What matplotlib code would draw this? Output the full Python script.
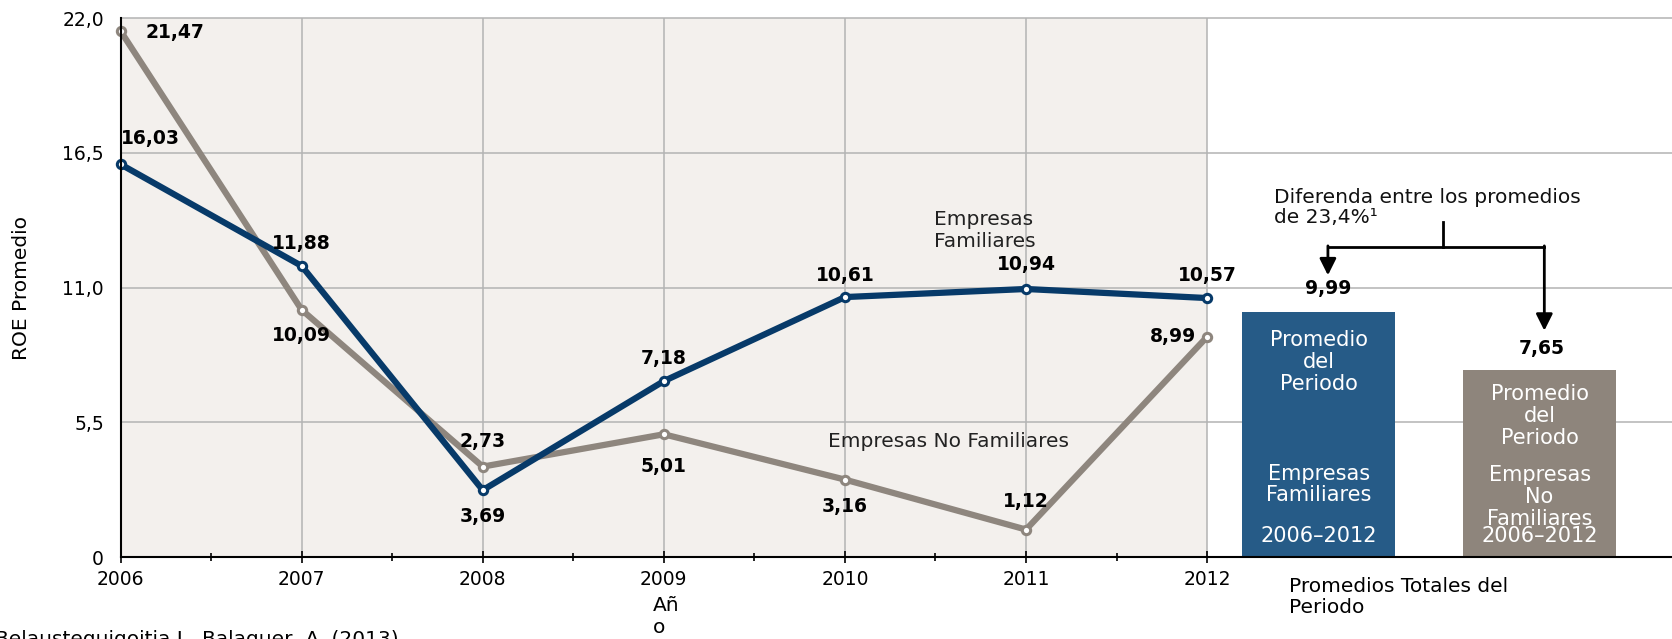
import matplotlib
matplotlib.use("Agg")
import matplotlib.pyplot as plt
from matplotlib.ticker import FixedLocator

plt.rcParams['font.family'] = ['DejaVu Sans']

# ROE promedio por año
years = [2006, 2007, 2008, 2009, 2010, 2011, 2012]
familiares = [16.03, 11.88, 2.73, 7.18, 10.61, 10.94, 10.57]
no_familiares = [21.47, 10.09, 3.69, 5.01, 3.16, 1.12, 8.99]

# Promedios del periodo 2006-2012
avg_labels = ["Familiares", "No Familiares"]
avg_values = [9.99, 7.65]

yticks = [0, 5.5, 11.0, 16.5, 22.0]
ytick_labels = ["0", "5,5", "11,0", "16,5", "22,0"]

BLUE_LINE = "#073a69"
GRAY_LINE = "#8e867e"
BLUE_BAR = "#265b87"
GRAY_BAR = "#8e857c"
BEIGE = "#f3f0ed"
GRID = "#b3b3b3"
TXT = 14.5
BOLD = 13.5


def fmt(v):
    return f"{v:.2f}".replace(".", ",")


fig = plt.figure(figsize=(16.72, 6.39), dpi=100)
ax = fig.add_axes([0.0721, 0.1283, 1 - 0.0721, 0.9718 - 0.1283])
ax.set_xlim(2006, 2014.567)
ax.set_ylim(0, 22)

# shaded period area
ax.axvspan(2006, 2012, color=BEIGE, zorder=0, lw=0)

# grid
for y in yticks[1:]:
    ax.axhline(y, color=GRID, lw=1.1, zorder=1, clip_on=False)
for x in years[1:]:
    ax.plot([x, x], [0, 22], color=GRID, lw=1.1, zorder=1)

# lines
ax.plot(years, no_familiares, color=GRAY_LINE, lw=4.5, zorder=3,
        marker="o", ms=6, mfc="white", mec=GRAY_LINE, mew=2.2,
        solid_capstyle="round", clip_on=False)
ax.plot(years, familiares, color=BLUE_LINE, lw=4.5, zorder=4,
        marker="o", ms=6, mfc="white", mec=BLUE_LINE, mew=2.2,
        solid_capstyle="round", clip_on=False)

# value labels: (dx, dy) in data units relative to the value
fam_off = [(0.0, 1.05), (0.0, 0.93), (0.0, 1.98), (0.0, 0.92),
           (0.0, 0.89), (0.0, 1.0), (0.0, 0.93)]
nofam_off = [(0.14, -0.07), (0.0, -1.03), (0.0, -2.03), (0.0, -1.33),
             (0.0, -1.1), (0.0, 1.15), (-0.19, 0.03)]
fam_ha = ["left", "center", "center", "center", "center", "center", "center"]
nofam_ha = ["left", "center", "center", "center", "center", "center", "center"]

for x, v, (dx, dy), ha in zip(years, familiares, fam_off, fam_ha):
    ax.text(x + dx, v + dy, fmt(v), ha=ha, va="center", fontsize=BOLD,
            fontweight="bold", color="black", zorder=6)
for x, v, (dx, dy), ha in zip(years, no_familiares, nofam_off, nofam_ha):
    ax.text(x + dx, v + dy, fmt(v), ha=ha, va="center", fontsize=BOLD,
            fontweight="bold", color="black", zorder=6)

# series names
ax.text(2010.49, 13.33, "Empresas\nFamiliares", ha="left", va="center",
        fontsize=TXT, color="#222222", linespacing=1.15, zorder=5)
ax.text(2009.905, 4.71, "Empresas No Familiares", ha="left", va="center",
        fontsize=TXT, color="#222222", zorder=5)

# period averages
bar_x = [2012.617, 2013.836]
bars = ax.bar(bar_x, avg_values, width=0.845, color=[BLUE_BAR, GRAY_BAR],
              zorder=2)
ax.text(bar_x[0] + 0.05, avg_values[0] + 0.99, fmt(avg_values[0]), ha="center",
        va="center", fontsize=BOLD, fontweight="bold", zorder=6)
ax.text(bar_x[1] + 0.01, avg_values[1] + 0.85, fmt(avg_values[1]), ha="center",
        va="center", fontsize=BOLD, fontweight="bold", zorder=6)

inner = dict(ha="center", va="center", fontsize=15, color="white", zorder=5)
ax.text(bar_x[0], 7.95, "Promedio\ndel\nPeriodo", linespacing=1.12, **inner)
ax.text(bar_x[0], 2.96, "Empresas\nFamiliares", linespacing=1.12, **inner)
ax.text(bar_x[0], 0.87, "2006\u20132012", **inner)
ax.text(bar_x[1], 5.75, "Promedio\ndel\nPeriodo", linespacing=1.12, **inner)
ax.text(bar_x[1], 2.44, "Empresas\nNo\nFamiliares", linespacing=1.12, **inner)
ax.text(bar_x[1], 0.87, "2006\u20132012", **inner)

# difference bracket
ax.text(2012.37, 14.27, "Diferenda entre los promedios\nde 23,4%\u00b9",
        ha="left", va="center", fontsize=TXT, color="#111111", linespacing=1.1)
ax.plot([2013.30, 2013.30], [13.68, 12.64], color="black", lw=2, zorder=5)
ax.plot([2012.667, 2013.862], [12.64, 12.64], color="black", lw=2, zorder=5)
arrow_style = dict(arrowstyle="-|>,head_length=1.0,head_width=0.5",
                   color="black", lw=2, shrinkA=0, shrinkB=0)
ax.annotate("", xy=(2012.667, 11.50), xytext=(2012.667, 12.70),
            arrowprops=arrow_style, zorder=5)
ax.annotate("", xy=(2013.862, 9.24), xytext=(2013.862, 12.70),
            arrowprops=arrow_style, zorder=5)

# axes styling
for side in ("top", "right"):
    ax.spines[side].set_visible(False)
ax.spines["left"].set_color("black")
ax.spines["left"].set_linewidth(1.5)
ax.spines["left"].set_bounds(0, 22)
ax.spines["bottom"].set_color("black")
ax.spines["bottom"].set_linewidth(1.5)
ax.spines["left"].set_zorder(5)
ax.spines["bottom"].set_zorder(5)

ax.set_yticks(yticks)
ax.set_yticklabels(ytick_labels)
ax.tick_params(axis="y", length=0, pad=12, labelsize=13.5)
ax.set_xticks(years)
ax.set_xticklabels([str(y) for y in years])
ax.xaxis.set_minor_locator(FixedLocator([y + 0.5 for y in years[:-1]]))
ax.tick_params(axis="x", which="major", direction="inout", length=8, width=1.2,
               pad=5, labelsize=13.5)
ax.tick_params(axis="x", which="minor", direction="inout", length=6, width=1.2)

ax.set_ylabel("ROE Promedio", fontsize=TXT)
ax.yaxis.set_label_coords(-0.058, 0.5)

ax.text(2008.94, -2.44, "Añ\no", ha="left", va="center", fontsize=TXT,
        linespacing=1.2, clip_on=False)
ax.text(2012.45, -1.63, "Promedios Totales del\nPeriodo", ha="left",
        va="center", fontsize=TXT, linespacing=1.15, clip_on=False)

fig.text(-0.003, 0.0140, "Belausteguigoitia I., Balaguer, A. (2013).",
         ha="left", va="top", fontsize=TXT)

fig.savefig("out.png", dpi=100)
